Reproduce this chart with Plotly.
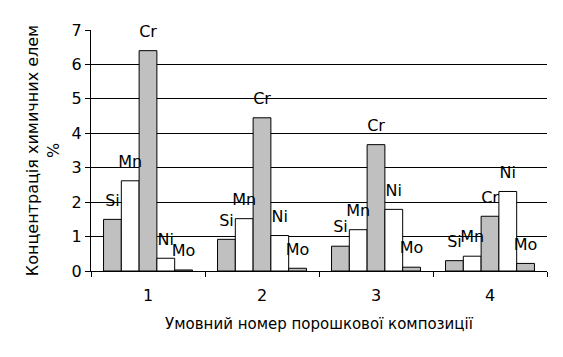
import plotly.graph_objects as go

categories = ["1", "2", "3", "4"]
elements = ["Si", "Mn", "Cr", "Ni", "Mo"]
si = [1.5, 0.92, 0.72, 0.30]
mn = [2.62, 1.52, 1.20, 0.43]
cr = [6.40, 4.45, 3.67, 1.59]
ni = [0.37, 1.03, 1.79, 2.31]
mo = [0.03, 0.08, 0.11, 0.22]
series = [si, mn, cr, ni, mo]
colors = ["#c0c0c0", "#ffffff", "#c0c0c0", "#ffffff", "#c0c0c0"]

font = "DejaVu Sans"
fig = go.Figure()
for name, vals, col in zip(elements, series, colors):
    fig.add_trace(go.Bar(
        x=categories, y=vals, name=name, offsetgroup=name,
        marker=dict(color=col, line=dict(color="black", width=1)),
    ))
for name, vals in zip(elements, series):
    fig.add_trace(go.Scatter(
        x=categories, y=vals, name=name + " label", offsetgroup=name,
        mode="markers+text", marker=dict(size=14, opacity=0),
        text=[name] * len(vals), textposition="top center",
        textfont=dict(family=font, size=16, color="black"),
        cliponaxis=False, hoverinfo="skip",
    ))

fig.update_layout(
    width=563, height=357,
    margin=dict(l=91, r=16, t=30, b=86),
    barmode="group", bargap=0.22, bargroupgap=0,
    scattermode="group", scattergap=0.22,
    paper_bgcolor="white", plot_bgcolor="white",
    showlegend=False,
    font=dict(family=font, size=16, color="black"),
    xaxis=dict(
        type="category", showline=True, linecolor="black", linewidth=1,
        ticks="outside", tickson="boundaries", ticklen=5, tickcolor="black",
        tickfont=dict(size=16), showgrid=False, ticklabelstandoff=10,
        title=dict(text="Умовний номер порошкової композиції", font=dict(size=15), standoff=14),
    ),
    yaxis=dict(
        range=[0, 7], dtick=1, showline=True, linecolor="black", linewidth=1,
        ticks="outside", ticklen=5, tickcolor="black", tickfont=dict(size=16),
        showgrid=True, gridcolor="black", gridwidth=1, zeroline=False,
        title=dict(text="Концентрація химичних елем<br>%", font=dict(size=16), standoff=8),
    ),
)
fig.write_html("out.html")
